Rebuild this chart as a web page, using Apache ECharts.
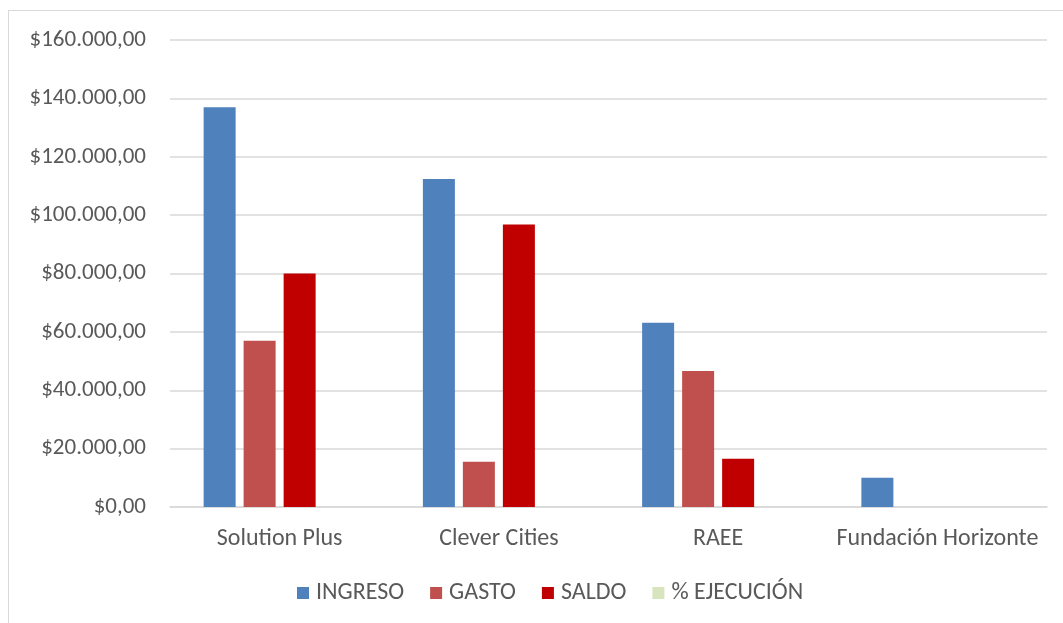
<!DOCTYPE html>
<html>
<head>
<meta charset="utf-8">
<script src="https://cdn.jsdelivr.net/npm/echarts@6/dist/echarts.min.js"></script>
<style>
html,body{margin:0;padding:0;background:#fff;}
#frame{position:absolute;left:8px;top:10px;width:1060px;height:620px;border:1px solid #d9d9d9;box-sizing:border-box;}
#chart{position:absolute;left:0;top:0;width:1063px;height:623px;}
</style>
</head>
<body>
<div id="frame"></div>
<div id="chart"></div>
<script>
const categories = ['Solution Plus', 'Clever Cities', 'RAEE', 'Fundación Horizonte'];
const ingreso = [137000, 112400, 63100, 10000];
const gasto = [57000, 15500, 46600, 0];
const saldo = [80000, 96800, 16500, 0];
const ejecucion = [0.42, 0.14, 0.74, 0];
const seriesNames = ['INGRESO', 'GASTO', 'SALDO', '% EJECUCIÓN'];
const colors = ['#4f81bd', '#c0504d', '#c00000', '#d7e4bd'];

function fmt(v){
  const s = Math.round(v).toString().replace(/\B(?=(\d{3})+(?!\d))/g, '.');
  return '$' + s + ',00';
}
const font = 'Carlito, "Open Sans", "Noto Sans", sans-serif';
const chart = echarts.init(document.getElementById('chart'));
const data = [ingreso, gasto, saldo, ejecucion];
chart.setOption({
  animation: false,
  color: colors,
  textStyle: {fontFamily: font},
  grid: {left: 170, right: 16, top: 40, bottom: 116, containLabel: false},
  legend: {
    bottom: 13, left: 292,
    itemWidth: 12, itemHeight: 12, itemGap: 26,
    icon: 'rect',
    textStyle: {fontSize: 24, color: '#595959', fontFamily: font, padding: [0,0,0,2]},
    data: seriesNames
  },
  xAxis: {
    type: 'category', data: categories,
    axisLine: {lineStyle: {color: '#d9d9d9', width: 1.5}},
    axisTick: {show: false},
    axisLabel: {fontSize: 24, color: '#595959', margin: 20, fontFamily: font, interval: 0}
  },
  yAxis: {
    type: 'value', min: 0, max: 160000, interval: 20000,
    axisLine: {show: false}, axisTick: {show: false},
    splitLine: {lineStyle: {color: '#d9d9d9', width: 1.5}},
    axisLabel: {fontSize: 23, color: '#595959', margin: 24, formatter: fmt, fontFamily: font}
  },
  series: seriesNames.map((n, i) => ({
    name: n, type: 'bar', data: data[i],
    barWidth: 32, barGap: '25%', barCategoryGap: '31%'
  }))
});
</script>
</body>
</html>
